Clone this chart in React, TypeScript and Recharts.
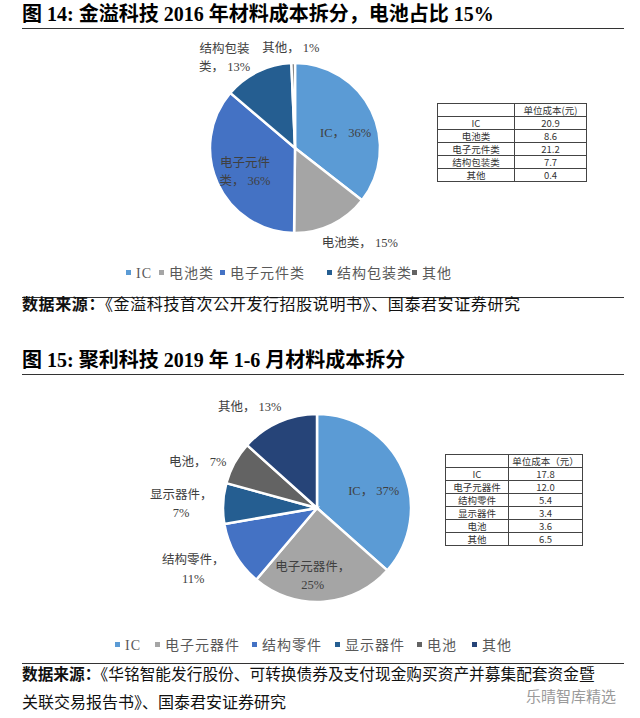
import React from "react";
import { PieChart, Pie, Cell } from "recharts";

// 图14 金溢科技 2016 材料成本（元）
const jyNames = ["IC", "电池类", "电子元件类", "结构包装类", "其他"];
const jyCost = [20.9, 8.6, 21.2, 7.7, 0.4];

// 图15 聚利科技 2019H1 材料成本（元）
const jlNames = ["IC", "电子元器件", "结构零件", "显示器件", "电池", "其他"];
const jlCost = [17.8, 12.0, 5.4, 3.4, 3.6, 6.5];
const jlCostText = ["17.8", "12.0", "5.4", "3.4", "3.6", "6.5"];

const COLORS = ["#5B9BD5", "#A5A5A5", "#4472C4", "#255E91", "#636363", "#264478"];
const jyColors = ["#5B9BD5", "#A5A5A5", "#4472C4", "#255E91", "#636363"];

const SERIF = "'Times New Roman', 'Liberation Serif', 'Noto Sans CJK SC', serif";
const CJK = "'Noto Sans CJK SC', 'Liberation Serif', sans-serif";

// label placement: radius from centre, nudge, and where the name wraps (0 = no wrap)
type LabelPos = { r: number; dx: number; dy: number; wrap: number };
const jyLabelPos: LabelPos[] = [
  { r: 53, dx: 3, dy: 8, wrap: 0 },
  { r: 115, dx: 15, dy: -9, wrap: 0 },
  { r: 55, dx: 0, dy: 1, wrap: 4 },
  { r: 115, dx: -20, dy: 13, wrap: 4 },
  { r: 100, dx: -2, dy: 0, wrap: 0 },
];
const jlLabelPos: LabelPos[] = [
  { r: 60, dx: 2, dy: 8, wrap: 0 },
  { r: 68, dx: -9, dy: 0, wrap: 5 },
  { r: 138, dx: -4, dy: -7, wrap: 4 },
  { r: 136, dx: 0, dy: 3, wrap: 4 },
  { r: 128, dx: -7, dy: 15, wrap: 0 },
  { r: 121, dx: -18, dy: 10, wrap: 0 },
];

function makeLabel(names: string[], pos: LabelPos[], fontSize: number) {
  return (p: any) => {
    const { cx, cy, midAngle, percent, index } = p;
    const lp = pos[index];
    const a = (-midAngle * Math.PI) / 180;
    const x = cx + lp.r * Math.cos(a) + lp.dx;
    const y = cy + lp.r * Math.sin(a) + lp.dy;
    const name = names[index];
    const pct = `${Math.round(percent * 100)}%`;
    let lines: string[];
    if (!lp.wrap) lines = [`${name}， ${pct}`];
    else if (lp.wrap >= name.length) lines = [`${name}，`, pct];
    else lines = [name.slice(0, lp.wrap), `${name.slice(lp.wrap)}， ${pct}`];
    const lh = fontSize * 1.45;
    const y0 = y - ((lines.length - 1) * lh) / 2;
    return (
      <text
        x={x}
        y={y0}
        textAnchor="middle"
        dominantBaseline="central"
        fill="#404040"
        fontSize={fontSize}
        fontFamily={SERIF}
      >
        {lines.map((l, i) => (
          <tspan key={i} x={x} y={y0 + i * lh}>
            {l}
          </tspan>
        ))}
      </text>
    );
  };
}

function Rule({ top }: { top: number }) {
  return (
    <div
      style={{
        position: "absolute",
        left: 22,
        top,
        width: 602,
        height: 0,
        borderTop: "1.5px solid #333",
      }}
    />
  );
}

function CostTable({
  left,
  top,
  width,
  split,
  header,
  names,
  values,
}: {
  left: number;
  top: number;
  width: number;
  split: number;
  header: string;
  names: string[];
  values: string[];
}) {
  const cell: React.CSSProperties = {
    border: "1px solid #444",
    height: 12,
    padding: 0,
    lineHeight: "12px",
    textAlign: "center",
  };
  return (
    <table
      style={{
        position: "absolute",
        left,
        top,
        width,
        borderCollapse: "collapse",
        fontSize: 9.5,
        fontFamily: CJK,
        color: "#333",
        tableLayout: "fixed",
      }}
    >
      <tbody>
        <tr>
          <td style={{ ...cell, width: split }}></td>
          <td style={cell}>{header}</td>
        </tr>
        {names.map((n, i) => (
          <tr key={n}>
            <td style={cell}>{n}</td>
            <td style={cell}>{values[i]}</td>
          </tr>
        ))}
      </tbody>
    </table>
  );
}

function Legend({ names, colors, xs, top }: { names: string[]; colors: string[]; xs: number[]; top: number }) {
  return (
    <>
      {names.map((n, i) => (
        <div
          key={n}
          style={{
            position: "absolute",
            left: xs[i],
            top,
            height: 18,
            lineHeight: "18px",
            fontSize: 14,
            letterSpacing: 1,
            color: "#595959",
            fontFamily: SERIF,
            whiteSpace: "nowrap",
          }}
        >
          <span
            style={{
              width: 5,
              height: 5,
              background: colors[i],
              marginRight: 5,
              display: "inline-block",
              verticalAlign: "middle",
              position: "relative",
              top: -1,
            }}
          />
          <span style={{ verticalAlign: "middle" }}>{n}</span>
        </div>
      ))}
    </>
  );
}

const titleStyle: React.CSSProperties = {
  position: "absolute",
  left: 22,
  fontSize: 20,
  fontWeight: 700,
  fontFamily: SERIF,
  color: "#000",
  whiteSpace: "nowrap",
  lineHeight: "24px",
};

const noteStyle: React.CSSProperties = {
  position: "absolute",
  left: 22,
  fontSize: 16,
  fontFamily: SERIF,
  color: "#111",
  whiteSpace: "nowrap",
  lineHeight: "22px",
};

export default function App() {
  const jyData = jyNames.map((name, i) => ({ name, value: jyCost[i] }));
  const jlData = jlNames.map((name, i) => ({ name, value: jlCost[i] }));

  return (
    <div
      style={{
        position: "absolute",
        left: 0,
        top: 0,
        width: 640,
        height: 718,
        background: "#fff",
        overflow: "hidden",
      }}
    >
      <div style={{ ...titleStyle, top: 2 }}>图 14: 金溢科技 2016 年材料成本拆分，电池占比 15%</div>
      <Rule top={28} />

      <div style={{ position: "absolute", left: 0, top: 30 }}>
        <PieChart width={640} height={230}>
          <Pie
            data={jyData}
            dataKey="value"
            nameKey="name"
            cx={290}
            cy={113}
            outerRadius={85}
            startAngle={90}
            endAngle={-270}
            stroke="#fff"
            strokeWidth={2.5}
            labelLine={false}
            label={makeLabel(jyNames, jyLabelPos, 12.5)}
            isAnimationActive={false}
          >
            {jyData.map((d, i) => (
              <Cell key={d.name} fill={jyColors[i]} />
            ))}
          </Pie>
        </PieChart>
      </div>

      <CostTable
        left={437}
        top={103}
        width={150}
        split={76}
        header="单位成本(元)"
        names={jyNames}
        values={jyCost.map((v) => v.toFixed(1))}
      />

      <Legend names={jyNames} colors={jyColors} xs={[126, 159, 220, 327, 412]} top={264} />
      <Rule top={297} />
      <div style={{ ...noteStyle, top: 294, letterSpacing: 0.6 }}>
        <b>数据来源：</b>《金溢科技首次公开发行招股说明书》、国泰君安证券研究
      </div>

      <div style={{ ...titleStyle, top: 348 }}>图 15: 聚利科技 2019 年 1-6 月材料成本拆分</div>
      <Rule top={374} />

      <div style={{ position: "absolute", left: 0, top: 380 }}>
        <PieChart width={640} height={240}>
          <Pie
            data={jlData}
            dataKey="value"
            nameKey="name"
            cx={312}
            cy={123}
            outerRadius={94}
            startAngle={90}
            endAngle={-270}
            stroke="#fff"
            strokeWidth={2.5}
            labelLine={false}
            label={makeLabel(jlNames, jlLabelPos, 12.5)}
            isAnimationActive={false}
          >
            {jlData.map((d, i) => (
              <Cell key={d.name} fill={COLORS[i]} />
            ))}
          </Pie>
        </PieChart>
      </div>

      <CostTable
        left={445}
        top={454}
        width={138}
        split={62}
        header="单位成本（元）"
        names={jlNames}
        values={jlCostText}
      />

      <Legend names={jlNames} colors={COLORS} xs={[115, 155, 252, 335, 417, 472]} top={636} />
      <Rule top={663} />
      <div style={{ ...noteStyle, top: 664, fontSize: 15.7 }}>
        <b>数据来源：</b>《华铭智能发行股份、可转换债券及支付现金购买资产并募集配套资金暨
      </div>
      <div style={{ ...noteStyle, top: 692 }}>关联交易报告书》、国泰君安证券研究</div>

      <div
        style={{
          position: "absolute",
          left: 526,
          top: 687,
          fontSize: 15,
          lineHeight: "18px",
          fontFamily: CJK,
          color: "#9a9a9a",
          whiteSpace: "nowrap",
        }}
      >
        乐晴智库精选
      </div>
    </div>
  );
}
